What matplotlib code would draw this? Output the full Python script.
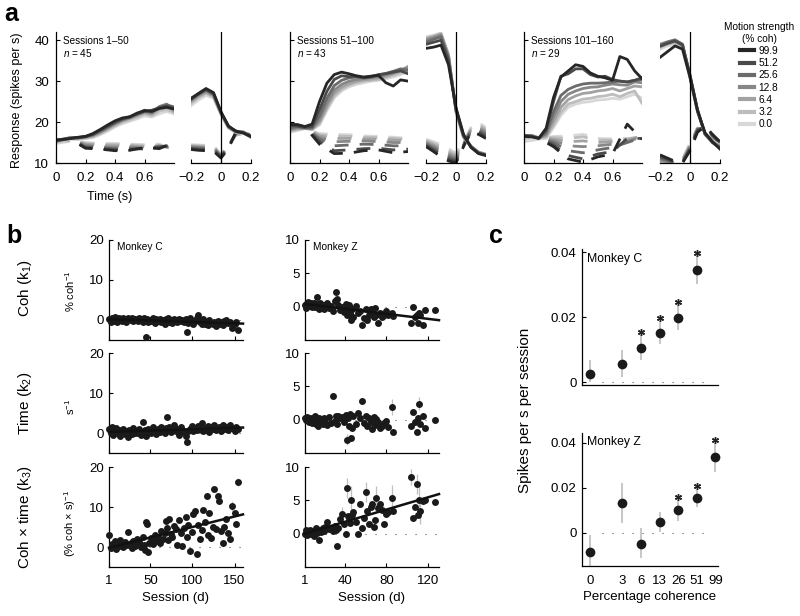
import matplotlib
matplotlib.use("Agg")
import matplotlib.pyplot as plt
from matplotlib.lines import Line2D
import numpy as np

plt.rcParams['font.family'] = ['Liberation Sans', 'DejaVu Sans']
plt.rcParams['mathtext.fontset'] = 'custom'
plt.rcParams['mathtext.rm'] = 'Liberation Sans'
plt.rcParams['mathtext.it'] = 'Liberation Sans:italic'
plt.rcParams['axes.linewidth'] = 0.9

W, H = 800, 616

# ---------------- panel a data ----------------
coh_labels = ['99.9', '51.2', '25.6', '12.8', '6.4', '3.2', '0.0']
coh_colors = ['#262626', '#4a4a4a', '#6b6b6b', '#878787', '#a2a2a2', '#bdbdbd', '#d8d8d8']
t_left = [0, 0.05, 0.1, 0.15, 0.2, 0.25, 0.3, 0.35, 0.4, 0.45, 0.5, 0.55, 0.6, 0.65, 0.7, 0.75, 0.8]
t_left_out = [0, 0.1, 0.2, 0.3, 0.4, 0.5, 0.6, 0.7, 0.8]
t_right = [-0.2, -0.15, -0.1, -0.05, 0, 0.05, 0.1, 0.15, 0.2]

g1_in_left = [
    [15.6, 15.8, 16.0, 16.3, 16.5, 17.2, 18.2, 19.3, 20.3, 21.0, 21.3, 22.2, 22.8, 22.6, 23.3, 23.6, 23.2],
    [15.5, 15.7, 16.0, 16.2, 16.4, 17.0, 18.0, 19.0, 20.0, 20.8, 21.2, 22.0, 22.6, 22.9, 23.5, 23.9, 23.4],
    [15.4, 15.8, 16.1, 16.2, 16.5, 16.9, 17.8, 18.8, 19.8, 20.6, 21.3, 21.9, 22.9, 22.4, 23.6, 24.2, 23.7],
    [15.3, 15.9, 16.2, 16.1, 16.4, 16.8, 17.6, 18.6, 19.6, 20.5, 21.0, 21.8, 22.5, 22.2, 23.8, 24.4, 23.0],
    [15.2, 15.7, 16.3, 16.0, 16.3, 16.6, 17.4, 18.4, 19.4, 20.3, 20.9, 21.6, 22.3, 21.9, 23.3, 24.0, 22.6],
    [15.0, 15.5, 16.0, 15.9, 16.1, 16.4, 17.2, 18.1, 19.1, 20.0, 20.6, 21.2, 22.0, 21.6, 22.7, 23.1, 22.4],
    [14.8, 15.3, 15.8, 15.7, 15.9, 16.2, 16.9, 17.8, 18.8, 19.6, 20.2, 20.8, 21.5, 21.2, 22.0, 22.6, 22.0],
]
g1_in_right = [
    [25.8, 27.0, 28.2, 27.2, 22.5, 19.0, 17.8, 17.3, 16.4],
    [25.6, 26.9, 28.0, 27.0, 22.4, 19.0, 17.6, 17.4, 16.5],
    [25.5, 26.8, 27.8, 26.8, 22.3, 18.9, 17.7, 17.5, 16.6],
    [25.3, 26.6, 27.6, 26.6, 22.2, 18.8, 17.8, 17.6, 16.4],
    [25.0, 26.3, 27.3, 26.4, 22.0, 18.7, 17.6, 17.5, 16.5],
    [24.6, 26.0, 27.0, 26.2, 22.0, 18.6, 17.5, 17.3, 16.3],
    [24.0, 25.4, 26.5, 25.8, 21.8, 18.5, 17.4, 17.2, 16.2],
]
g1_out_left = [
    [15.6, 15.8, 13.6, 13.4, 13.0, 13.1, 13.8, 13.5, 15.0],
    [15.5, 15.7, 13.8, 13.6, 13.2, 13.3, 13.6, 13.8, 14.6],
    [15.4, 15.8, 14.0, 13.8, 13.5, 13.6, 13.4, 14.0, 14.2],
    [15.3, 15.9, 14.3, 14.0, 13.8, 13.9, 13.6, 14.1, 13.8],
    [15.2, 15.7, 14.6, 14.3, 14.2, 14.2, 13.9, 14.2, 13.6],
    [15.0, 15.5, 14.8, 14.6, 14.5, 14.4, 14.2, 14.4, 13.4],
    [14.8, 15.3, 15.0, 14.8, 14.8, 14.6, 14.5, 14.6, 13.2],
]
g1_out_right = [
    [13.3, 13.1, 13.0, 12.9, 11.2, 13.6, 17.6, 17.8, 16.6],
    [13.5, 13.3, 13.2, 13.1, 11.4, 13.8, 17.5, 17.6, 16.5],
    [13.7, 13.6, 13.5, 13.4, 11.6, 14.0, 17.4, 17.5, 16.4],
    [13.9, 13.8, 13.7, 13.6, 11.8, 14.1, 17.2, 17.4, 16.3],
    [14.1, 14.0, 13.9, 13.8, 11.9, 14.2, 17.0, 17.3, 16.2],
    [14.3, 14.2, 14.1, 14.0, 12.0, 14.3, 16.9, 17.2, 16.1],
    [14.5, 14.4, 14.3, 14.2, 12.1, 14.4, 16.8, 17.1, 16.0],
]

g2_in_left = [
    [19.4, 19.4, 18.9, 19.5, 25.0, 29.5, 31.6, 32.2, 31.8, 31.3, 31.0, 31.2, 31.4, 29.6, 28.8, 30.3, 30.0],
    [19.2, 19.0, 18.7, 18.9, 23.0, 27.5, 30.4, 31.3, 31.1, 31.2, 30.8, 31.0, 31.6, 31.8, 32.2, 32.5, 31.8],
    [18.6, 18.9, 18.6, 18.6, 21.5, 25.8, 28.9, 30.2, 30.8, 31.0, 30.9, 31.2, 31.5, 31.9, 32.4, 33.0, 32.6],
    [18.3, 18.6, 18.5, 18.4, 20.6, 24.6, 27.8, 29.2, 30.0, 30.4, 30.6, 30.9, 31.0, 31.6, 32.0, 32.8, 33.2],
    [18.0, 18.4, 18.6, 18.3, 20.0, 23.8, 27.0, 28.5, 29.4, 30.0, 30.3, 30.5, 30.8, 31.2, 31.8, 32.5, 33.6],
    [17.8, 18.2, 18.5, 18.2, 19.6, 23.2, 26.4, 28.0, 29.0, 29.6, 30.0, 30.2, 30.4, 30.9, 31.4, 32.0, 32.8],
    [17.5, 18.0, 18.4, 18.1, 19.3, 22.8, 25.9, 27.6, 28.6, 29.2, 29.6, 30.0, 30.2, 30.6, 31.0, 31.6, 32.2],
]
g2_in_right = [
    [38.0, 38.3, 38.8, 34.0, 23.5, 17.0, 13.8, 12.3, 11.8],
    [39.0, 39.5, 40.0, 35.0, 23.2, 16.8, 13.9, 12.4, 11.9],
    [39.5, 40.2, 40.8, 35.6, 23.0, 16.6, 14.0, 12.5, 12.0],
    [40.0, 40.6, 41.2, 36.0, 22.8, 16.5, 14.0, 12.6, 12.0],
    [40.3, 40.8, 41.5, 36.3, 22.6, 16.4, 14.1, 12.6, 12.1],
    [40.6, 41.0, 41.6, 36.5, 22.5, 16.3, 14.1, 12.7, 12.1],
    [40.8, 41.2, 41.8, 36.6, 22.4, 16.2, 14.2, 12.7, 12.2],
]
g2_out_left = [
    [19.4, 18.9, 14.6, 12.3, 12.4, 13.0, 13.2, 12.5, 12.8],
    [19.2, 18.7, 15.2, 13.0, 13.2, 13.5, 13.6, 13.2, 13.4],
    [18.6, 18.6, 15.8, 14.2, 14.4, 14.6, 14.5, 14.2, 14.2],
    [18.3, 18.5, 16.2, 15.2, 15.3, 15.4, 15.2, 15.0, 15.0],
    [18.0, 18.6, 16.6, 16.0, 16.0, 15.9, 15.8, 15.6, 15.5],
    [17.8, 18.5, 16.9, 16.6, 16.5, 16.3, 16.2, 16.0, 15.8],
    [17.5, 18.4, 17.2, 17.0, 16.9, 16.6, 16.5, 16.3, 16.0],
]
g2_out_right = [
    [14.0, 12.8, 11.5, 10.5, 10.0, 14.0, 17.5, 17.0, 16.0],
    [14.3, 13.2, 12.0, 11.0, 10.4, 14.2, 17.6, 17.5, 16.5],
    [14.6, 13.6, 12.5, 11.5, 10.8, 14.4, 17.8, 18.0, 17.0],
    [14.9, 14.0, 13.0, 12.0, 11.2, 14.6, 18.0, 18.5, 17.4],
    [15.2, 14.4, 13.5, 12.5, 11.6, 14.8, 18.2, 19.0, 17.8],
    [15.5, 14.8, 14.0, 13.0, 12.0, 15.0, 18.4, 19.5, 18.2],
    [15.8, 15.2, 14.5, 13.5, 12.4, 15.2, 18.6, 20.0, 18.6],
]

g3_in_left = [
    [16.5, 16.4, 16.0, 18.5, 26.0, 31.0, 32.5, 34.0, 33.6, 32.0, 31.2, 30.8, 30.2, 36.0, 35.3, 32.5, 30.6],
    [16.7, 16.5, 16.1, 18.0, 25.0, 31.2, 31.8, 33.0, 33.0, 31.6, 31.0, 31.2, 30.4, 30.0, 29.8, 30.2, 30.8],
    [16.8, 16.6, 16.0, 17.4, 22.5, 26.5, 28.0, 28.8, 29.3, 29.5, 29.5, 29.6, 29.8, 30.0, 29.8, 30.2, 30.4],
    [16.6, 16.7, 16.1, 17.0, 21.2, 25.0, 26.8, 27.6, 28.2, 28.5, 28.6, 29.0, 29.3, 29.1, 29.0, 29.8, 29.6],
    [16.4, 16.8, 16.2, 16.6, 20.0, 23.6, 25.5, 26.4, 27.0, 27.2, 27.6, 27.8, 28.2, 27.6, 28.2, 28.8, 28.6],
    [16.0, 16.5, 16.1, 16.3, 19.2, 22.4, 24.4, 25.0, 25.6, 25.8, 26.2, 26.4, 26.8, 26.2, 27.0, 27.6, 24.6],
    [15.2, 15.8, 15.8, 16.0, 18.6, 21.6, 23.6, 24.4, 24.8, 25.0, 25.4, 25.5, 25.8, 25.6, 26.2, 26.8, 25.8],
]
g3_in_right = [
    [35.8, 37.2, 38.6, 37.8, 31.0, 22.8, 17.4, 15.2, 13.4],
    [38.5, 39.2, 39.8, 38.8, 31.5, 23.0, 17.2, 15.0, 13.6],
    [38.8, 39.5, 40.0, 39.0, 31.4, 22.9, 17.0, 15.0, 13.8],
    [39.0, 39.6, 40.1, 39.0, 31.2, 22.8, 17.0, 15.1, 14.0],
    [38.6, 39.4, 39.8, 38.7, 31.0, 22.6, 17.1, 15.2, 14.1],
    [38.2, 39.0, 39.4, 38.4, 30.8, 22.5, 17.2, 15.3, 14.2],
    [37.8, 38.6, 39.0, 38.0, 30.6, 22.4, 17.3, 15.4, 14.3],
]
g3_out_left = [
    [16.5, 16.0, 14.0, 11.0, 10.2, 11.5, 12.2, 19.5, 15.8],
    [16.7, 16.1, 14.4, 11.8, 11.0, 12.2, 12.8, 16.0, 16.0],
    [16.8, 16.0, 15.0, 13.0, 12.5, 13.2, 13.8, 15.0, 16.2],
    [16.6, 16.1, 15.4, 14.2, 14.0, 14.2, 14.6, 15.2, 16.4],
    [16.4, 16.2, 15.8, 15.2, 15.4, 15.0, 15.2, 15.6, 16.6],
    [16.0, 16.1, 16.2, 16.0, 16.4, 15.6, 15.6, 15.9, 16.4],
    [15.2, 15.8, 16.5, 16.6, 17.0, 16.0, 15.9, 16.0, 16.2],
]
g3_out_right = [
    [12.0, 11.2, 10.4, 10.0, 13.0, 17.5, 19.0, 17.0, 15.2],
    [11.6, 10.9, 10.2, 10.1, 13.4, 18.0, 18.8, 16.8, 15.0],
    [11.2, 10.6, 10.0, 10.2, 13.8, 18.2, 18.6, 16.6, 14.8],
    [10.8, 10.3, 10.0, 10.4, 14.0, 18.3, 18.4, 16.5, 14.8],
    [10.5, 10.2, 10.0, 10.6, 14.3, 18.4, 18.2, 16.4, 14.7],
    [10.3, 10.1, 10.0, 10.8, 14.6, 18.5, 18.0, 16.3, 14.6],
    [10.2, 10.0, 10.0, 11.0, 14.8, 18.6, 17.8, 16.2, 14.5],
]

group_titles = ['Sessions 1\u201350', 'Sessions 51\u2013100', 'Sessions 101\u2013160']
group_n = [45, 43, 29]

# ---------------- panel b data ----------------
sessions_c = [1, 3, 4, 6, 8, 9, 11, 13, 14, 16,
              18, 20, 21, 23, 25, 27, 28, 30, 32, 34,
              35, 37, 39, 41, 43, 44, 45, 46, 47, 49,
              51, 53, 55, 57, 59, 61, 63, 65, 67, 69,
              70, 71, 72, 74, 76, 78, 80, 82, 84, 86,
              88, 90, 92, 93, 95, 97, 99, 101, 103, 105,
              107, 109, 111, 113, 115, 117, 118, 120, 122, 124,
              126, 128, 130, 132, 134, 136, 138, 140, 142, 145,
              147, 150, 152, 154]
k1_c = [0.3, -0.6, 0.5, -0.2, 0.8, 0.1, -0.4, 0.6, 0.2, -0.3,
        0.4, 0.0, -0.5, 0.5, 0.2, -0.1, 0.6, -0.3, 0.3, 0.1,
        -0.2, 0.4, 0.0, -0.6, 0.5, 0.2, -4.3, 0.3, -0.4, 0.1,
        -0.3, 0.4, -0.8, 0.2, -0.2, 0.3, -0.5, 0.0, -0.9, 0.2,
        -0.1, 0.5, -0.4, 0.1, -0.7, 0.3, -0.2, -0.6, 0.2, -0.3,
        0.1, -0.5, 0.3, -2.9, -0.8, 0.4, -0.2, -1.0, -0.3, 0.5,
        1.2, -0.6, -1.1, 0.2, -0.9, -0.4, -1.3, 0.0, -0.7, -1.0,
        -0.5, -1.4, -0.2, -0.9, -0.6, -1.2, -0.3, 0.1, -0.8, -0.4,
        -2.0, -0.9, -0.6, -2.5]
k2_c = [0.9, 0.1, 1.5, -0.5, 0.6, 1.2, -0.1, 0.7, -0.7, 0.4,
        1.0, -0.2, 0.5, -0.9, 0.8, 0.2, -0.3, 1.3, 0.0, 0.6,
        -0.1, 1.1, -0.6, 2.8, 0.3, 0.7, -0.8, 0.1, 0.9, 0.4,
        0.0, 1.4, 0.7, -0.3, 1.0, 0.3, 1.6, 0.5, -0.1, 1.2,
        4.0, 0.9, 1.6, 0.3, 1.2, 2.0, 0.5, 1.0, -0.4, 1.4,
        0.8, 0.2, -0.8, -2.2, 0.6, 1.1, 1.8, 0.4, 1.3, 0.7,
        1.8, 1.1, 2.4, 0.5, 1.2, 0.8, 1.7, 0.3, 1.4, 1.0,
        2.1, 0.7, 1.3, 1.6, 0.6, 1.9, 1.1, 1.5, 0.8, 2.0,
        1.2, 0.4, 1.6, 1.1]
k3_c = [2.9, -0.3, 0.8, 0.2, 1.5, -0.4, 0.9, 0.3, 1.8, 0.5,
        0.0, 1.2, 0.4, 3.8, 0.6, 1.0, -0.2, 1.5, 0.3, 2.0,
        0.7, 1.3, 0.1, 2.6, 0.5, -0.8, 6.2, 5.8, -1.3, 1.0,
        2.2, 0.8, 3.0, 1.5, 2.6, 0.9, 4.0, 2.0, 3.4, 6.5,
        4.8, 1.8, 6.9, 3.2, 2.4, 5.2, 4.4, 0.5, 6.8, 3.6,
        0.2, 4.8, 7.5, 2.6, 5.4, -1.1, 3.8, 8.2, 9.0, -1.8,
        5.6, 2.0, 4.2, 9.2, 6.2, 12.7, 3.0, 8.6, 2.3, 5.0,
        14.5, 4.4, 12.7, 11.5, 4.0, 1.1, 5.0, 7.0, 3.5, 2.1,
        10.2, 8.4, 5.8, 16.2]

sessions_z = [1, 2, 3, 4, 5, 6, 7, 8, 9, 10,
              11, 12, 13, 14, 15, 16, 17, 18, 19, 20,
              22, 24, 26, 28, 30, 31, 32, 33, 35, 37,
              39, 41, 42, 43, 44, 45, 46, 47, 48, 50,
              52, 54, 56, 58, 60, 61, 63, 65, 66, 68,
              69, 70, 72, 74, 76, 78, 80, 82, 85, 86,
              104, 106, 108, 110, 111, 112, 113, 115, 117, 127]
k1_z = [0.2, -0.2, 0.5, 0.7, 0.1, 0.4, 0.6, -0.1, 0.3, 0.5,
        0.0, 0.4, 1.4, 0.2, -0.3, 0.5, 0.1, 0.3, -0.4, 0.2,
        0.6, -0.2, 0.1, -0.6, 0.9, 2.2, 1.1, 0.3, -0.5, 0.0,
        -0.8, 0.4, -1.2, -0.3, 0.2, -0.9, -2.0, -0.4, -1.5, 0.1,
        -1.0, -0.6, -2.8, -1.7, -0.4, -2.0, -1.2, -0.3, -0.8, -1.6,
        -0.2, -1.3, -2.4, -0.9, -1.5, -1.3, -0.7, -1.2, -1.0, -1.4,
        -2.4, 0.0, -1.6, -1.3, -2.4, -1.0, -1.3, -2.8, -0.5, -0.5]
k2_z = [0.2, -0.1, 0.4, 0.1, -0.3, 0.3, 0.0, -0.5, 0.2, -0.2,
        0.6, -0.6, 0.1, -0.9, 0.3, -0.4, 0.0, -0.7, 0.2, -0.3,
        -0.8, 0.4, -0.5, 3.5, -0.2, 0.5, -0.6, 0.6, 0.2, 0.4,
        -0.4, 0.7, -3.0, 0.3, -0.9, 0.8, -2.8, -1.2, 0.5, -0.6,
        1.0, 0.2, 2.8, -0.5, 0.6, -1.0, 0.3, -0.3, -1.4, 0.4,
        -0.8, 0.1, -0.4, -1.3, -0.9, -0.5, -0.2, -1.1, 1.9, -1.9,
        -1.0, 1.2, -0.4, -1.8, 0.3, 2.4, -0.6, 0.5, -1.2, -0.1]
k3_z = [0.0, 0.5, -0.2, 0.3, 0.1, 0.6, -0.1, 0.2, 0.4, -0.3,
        0.3, 0.8, 0.1, 0.5, -1.0, 0.6, 0.2, 0.9, 0.4, 1.0,
        1.8, 0.7, 0.9, 0.4, 1.1, 0.6, -1.9, 0.8, 2.2, 3.0,
        1.5, 0.0, 6.8, 2.6, 2.4, 1.6, 5.1, 2.8, 3.2, 1.8,
        0.0, 4.5, 0.8, 2.4, 6.3, 3.4, 1.5, 4.0, 4.5, 1.0,
        2.0, 5.4, 3.8, 4.4, 3.6, 1.4, 3.0, 3.2, 5.3, 3.4,
        8.5, 2.4, 4.0, 7.5, 2.8, 5.0, 3.4, 4.9, 5.1, 4.8]

# a few session estimates carry visible error bars
z_k3_err_sessions = [37, 42, 46, 60, 70, 85, 104, 110, 112, 113]
z_k3_err = [1.0, 1.5, 2.0, 1.5, 1.8, 2.0, 1.2, 1.5, 2.3, 2.0]
z_k2_err_sessions = [85, 112, 42]
z_k2_err = [1.2, 1.0, 0.8]
c_k3_err_sessions = [154, 147]
c_k3_err = [1.0, 1.2]

# ---------------- panel c data ----------------
coh_c = [0, 3.2, 6.4, 12.8, 25.6, 51.2]
mean_c = [0.0025, 0.0058, 0.0106, 0.0153, 0.0197, 0.0345]
lo_c = [0.0002, 0.0017, 0.0070, 0.0117, 0.0160, 0.0303]
hi_c = [0.0068, 0.0099, 0.0145, 0.0190, 0.0237, 0.0390]
sig_c = [False, False, True, True, True, True]

coh_z = [0, 3.2, 6.4, 12.8, 25.6, 51.2, 99.9]
mean_z = [-0.0085, 0.0131, -0.0048, 0.0049, 0.0104, 0.0154, 0.0336]
lo_z = [-0.0145, 0.0042, -0.0110, 0.0004, 0.0054, 0.0113, 0.0269]
hi_z = [-0.0010, 0.0220, 0.0020, 0.0094, 0.0146, 0.0194, 0.0400]
sig_z = [False, False, False, False, True, True, True]
coh_tick_labels = ['0', '3', '6', '13', '26', '51', '99']
coh_tick_values = [0, 3.2, 6.4, 12.8, 25.6, 51.2, 99.9]

TICK = 9.5


def add_ax(fig, x0, y0, x1, y1):
    return fig.add_axes([x0 / W, 1 - y1 / H, (x1 - x0) / W, (y1 - y0) / H])


def style(ax, xpad=6.5, ypad=5):
    ax.spines['top'].set_visible(False)
    ax.spines['right'].set_visible(False)
    ax.tick_params(direction='in', length=3, width=0.8, labelsize=TICK)
    ax.tick_params(axis='x', pad=xpad)
    ax.tick_params(axis='y', pad=ypad)
    ax.patch.set_alpha(0)


def coh_pos(c):
    c = np.asarray(c, dtype=float)
    return np.log2(np.where(c == 0, 1.0, c))


fig = plt.figure(figsize=(W / 100, H / 100), dpi=100)

# ---------------- panel a ----------------
groups = [
    (g1_in_left, g1_in_right, g1_out_left, g1_out_right),
    (g2_in_left, g2_in_right, g2_out_left, g2_out_right),
    (g3_in_left, g3_in_right, g3_out_left, g3_out_right),
]
left_x = [56, 290, 524]
right_x = [191, 426, 660]
dash = (0, (5.0, 4.0))
for gi, (in_l, in_r, out_l, out_r) in enumerate(groups):
    axl = add_ax(fig, left_x[gi], 32, left_x[gi] + 118, 163)
    axr = add_ax(fig, right_x[gi], 32, right_x[gi] + 60, 163)
    for k in reversed(range(7)):
        col = coh_colors[k]
        axl.plot(t_left_out, out_l[k], color=col, lw=2.0, ls=dash)
        axr.plot(t_right, out_r[k], color=col, lw=2.0, ls=dash)
    for k in reversed(range(7)):
        col = coh_colors[k]
        axl.plot(t_left, in_l[k], color=col, lw=2.0)
        axr.plot(t_right, in_r[k], color=col, lw=2.0)
    for ax in (axl, axr):
        style(ax)
        ax.set_ylim(10, 42)
    axl.set_xlim(0, 0.8)
    axl.set_xticks([0, 0.2, 0.4, 0.6])
    axl.set_xticklabels(['0', '0.2', '0.4', '0.6'])
    axl.set_yticks([10, 20, 30, 40])
    if gi > 0:
        axl.set_yticklabels([])
    axr.set_xlim(-0.2, 0.2)
    axr.set_xticks([-0.2, 0, 0.2])
    axr.set_xticklabels(['\u22120.2', '0', '0.2'])
    axr.spines['left'].set_visible(False)
    axr.set_yticks([])
    axr.axvline(0, color='black', lw=0.9)
    axl.text(0.06, 0.93, group_titles[gi], transform=axl.transAxes, fontsize=7.2, va='center')
    axl.text(0.06, 0.84, '$n$ = %d' % group_n[gi], transform=axl.transAxes, fontsize=7.2, va='center')

fig.text(17 / W, 1 - 100 / H, 'Response (spikes per s)', rotation=90, ha='center', va='center', fontsize=9)
fig.text(110 / W, 1 - 197 / H, 'Time (s)', ha='center', va='center', fontsize=9)

handles = [Line2D([], [], color=c, lw=3.0) for c in coh_colors]
leg = fig.legend(handles, coh_labels, title='Motion strength\n(% coh)', loc='upper center',
                 bbox_to_anchor=(759 / W, 1 - 17 / H), frameon=False, fontsize=7.3, title_fontsize=7.3,
                 handlelength=1.35, handletextpad=0.45, labelspacing=0.22, borderpad=0)
leg.get_title().set_multialignment('center')

# ---------------- panel b ----------------
row_y = [(240, 340), (353, 453), (467, 567)]
row_titles = ['Coh (k$_1$)', 'Time (k$_2$)', 'Coh \u00d7 time (k$_3$)']
row_units = ['% coh$^{-1}$', 's$^{-1}$', '(% coh \u00d7 s)$^{-1}$']
row_text_y = [288, 403, 517]
unit_text_y = [291, 407, 523]
c_rows = [k1_c, k2_c, k3_c]
z_rows = [k1_z, k2_z, k3_z]
c_fit = [True, True, True]
z_fit = [True, False, True]
c_err = [None, None, (c_k3_err_sessions, c_k3_err)]
z_err = [None, (z_k2_err_sessions, z_k2_err), (z_k3_err_sessions, z_k3_err)]

for r in range(3):
    y0, y1 = row_y[r]
    for side in range(2):
        if side == 0:
            ax = add_ax(fig, 109, y0, 243, y1)
            xs, ys = np.array(sessions_c), np.array(c_rows[r])
            xlim, xt, ylim, yt = (1, 160), [1, 50, 100, 150], (-5, 20), [0, 10, 20]
            fit, err = c_fit[r], c_err[r]
        else:
            ax = add_ax(fig, 305, y0, 439, y1)
            xs, ys = np.array(sessions_z), np.array(z_rows[r])
            xlim, xt, ylim, yt = (1, 131), [1, 40, 80, 120], (-5, 10), [0, 5, 10]
            fit, err = z_fit[r], z_err[r]
        style(ax, xpad=6, ypad=3.5)
        ax.set_xlim(*xlim)
        ax.set_ylim(*ylim)
        ax.set_xticks(xt)
        ax.set_yticks(yt)
        if r < 2:
            ax.set_xticklabels([])
        else:
            ax.set_xlabel('Session (d)', fontsize=9.5, labelpad=3)
        ax.axhline(0, color='0.35', lw=0.8, ls=(0, (1, 8)), zorder=1)
        if err is not None:
            for s, e in zip(*err):
                v = ys[list(xs).index(s)]
                ax.vlines(s, v - e, v + e, color='0.75', lw=0.9, zorder=2)
        ax.plot(xs, ys, 'o', color='#1a1a1a', ms=5.0, mew=0, clip_on=False, zorder=3)
        if fit:
            p = np.polyfit(xs, ys, 1)
            xx = np.array(xlim, dtype=float)
            ax.plot(xx, np.polyval(p, xx), color='#111111', lw=1.8, zorder=4, clip_on=False)
        if r == 0:
            ax.text(0.06, 0.93, 'Monkey C' if side == 0 else 'Monkey Z', transform=ax.transAxes,
                    fontsize=7.3, va='center')
    fig.text(25 / W, 1 - row_text_y[r] / H, row_titles[r], rotation=90, ha='center', va='center', fontsize=11)
    fig.text(70 / W, 1 - unit_text_y[r] / H, row_units[r], rotation=90, ha='center', va='center', fontsize=8)

# ---------------- panel c ----------------
c_sets = [
    (coh_c, mean_c, lo_c, hi_c, sig_c, 'Monkey C', (249, 385), (-0.0008, 0.041)),
    (coh_z, mean_z, lo_z, hi_z, sig_z, 'Monkey Z', (433, 566), (-0.0147, 0.0444)),
]
for i, (coh, m, lo, hi, sig, name, (y0, y1), ylim) in enumerate(c_sets):
    ax = add_ax(fig, 582, y0, 718, y1)
    style(ax, xpad=6.5, ypad=4)
    x = coh_pos(coh)
    ax.set_xlim(-0.45, 6.78)
    ax.set_ylim(*ylim)
    ax.axhline(0, xmin=0.15, xmax=0.93, color='0.35', lw=0.8, ls=(0, (1, 8)), zorder=1)
    ax.vlines(x, lo, hi, color='0.72', lw=1.1, zorder=2)
    ax.plot(x, m, 'o', color='#1a1a1a', ms=7, mew=0, zorder=3, clip_on=False)
    pad = 0.022 * (ylim[1] - ylim[0])
    sx = [xv for xv, s in zip(x, sig) if s]
    sy = [h + pad for h, s in zip(hi, sig) if s]
    ax.plot(sx, sy, ls='none', marker=(6, 2, 0), ms=5, mew=1.0, color='#222222', zorder=4, clip_on=False)
    ax.set_yticks([0, 0.02, 0.04])
    ax.set_yticklabels(['0', '0.02', '0.04'])
    ax.set_xticks(coh_pos(coh_tick_values))
    ax.tick_params(axis='x', length=0)
    if i == 0:
        ax.set_xticklabels([])
    else:
        ax.set_xticklabels(coh_tick_labels)
        ax.set_xlabel('Percentage coherence', fontsize=9.5, labelpad=3)
    ax.text(0.04, 0.93, name, transform=ax.transAxes, fontsize=8.8, va='center')

fig.text(525 / W, 1 - 410 / H, 'Spikes per s per session', rotation=90, ha='center', va='center', fontsize=11)

# panel letters
fig.text(4 / W, 1 - 21 / H, 'a', fontsize=18, fontweight='bold')
fig.text(6 / W, 1 - 243 / H, 'b', fontsize=18, fontweight='bold')
fig.text(489 / W, 1 - 243 / H, 'c', fontsize=18, fontweight='bold')

fig.savefig('out.png', dpi=100)
